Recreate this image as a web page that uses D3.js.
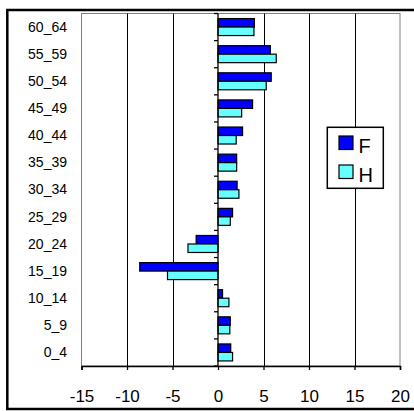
<!DOCTYPE html>
<html><head><meta charset="utf-8">
<script src="https://cdn.jsdelivr.net/npm/d3@7"></script>
<style>body{margin:0;background:#fff}svg{display:block}</style>
</head><body><svg id="c" width="414" height="411"></svg>
<script>
const categories = ["60_64","55_59","50_54","45_49","40_44","35_39","30_34","25_29","20_24","15_19","10_14","5_9","0_4"];
const seriesF = [4.0, 5.75, 5.85, 3.8, 2.7, 2.05, 2.1, 1.6, -2.4, -8.6, 0.5, 1.35, 1.4];
const seriesH = [3.95, 6.4, 5.3, 2.6, 2.0, 2.05, 2.3, 1.35, -3.3, -5.55, 1.2, 1.3, 1.6];
const seriesNames = ["F","H"];
const xTicks = [-15,-10,-5,0,5,10,15,20];
const colors = {F:"#0000FF", H:"#66FFFF"};

const svg = d3.select("#c");
const L = 81.5, R = 400, T = 13.5, B = 366;
const x = d3.scaleLinear().domain([-15,20]).range([L,R]);
const y = d3.scaleBand().domain(categories).range([T,B]).padding(0);
const inner = d3.scaleBand().domain(seriesNames).range([y.bandwidth()/2-8.5, y.bandwidth()/2+8.5]);

// outer frame
svg.append("rect").attr("x",7.3).attr("y",10).attr("width",420).attr("height",399)
  .attr("fill","#fff").attr("stroke","#000").attr("stroke-width",2.5);

// plot area border (gray)
svg.append("rect").attr("x",L).attr("y",T).attr("width",R-L).attr("height",B-T)
  .attr("fill","none").attr("stroke","#808080").attr("stroke-width",1);

// gridlines
svg.append("g").selectAll("line").data(xTicks.filter(d=>d!==0 && d!==-15 && d!==20)).join("line")
  .attr("x1",d=>Math.round(x(d))+0.5).attr("x2",d=>Math.round(x(d))+0.5)
  .attr("y1",T).attr("y2",B).attr("stroke","#000").attr("stroke-width",1);

// bars
const rows = categories.map((c,i)=>({cat:c, F:seriesF[i], H:seriesH[i]}));
const g = svg.append("g");
seriesNames.forEach(s=>{
  g.selectAll("rect."+s).data(rows).join("rect").attr("class",s)
    .attr("x",d=>x(Math.min(0,d[s])))
    .attr("width",d=>Math.abs(x(d[s])-x(0)))
    .attr("y",d=>y(d.cat)+inner(s))
    .attr("height",inner.bandwidth())
    .attr("fill",colors[s]).attr("stroke","#000").attr("stroke-width",1.2);
});

// y axis line at 0 with boundary ticks
const x0 = x(0);
svg.append("line").attr("x1",x0).attr("x2",x0).attr("y1",T).attr("y2",B).attr("stroke","#000").attr("stroke-width",1.3);
const bounds = categories.map(c=>y(c)).concat([B]);
svg.append("g").selectAll("line").data(bounds).join("line")
  .attr("x1",x0-4).attr("x2",x0).attr("y1",d=>d).attr("y2",d=>d)
  .attr("stroke","#000").attr("stroke-width",1.3);

// category labels
svg.append("g").selectAll("text").data(categories).join("text")
  .attr("x",67).attr("y",d=>y(d)+y.bandwidth()/2+1)
  .attr("dominant-baseline","middle").attr("text-anchor","end")
  .attr("font-family","Liberation Sans, Arial, sans-serif").attr("font-size","14px")
  .attr("fill","#000").text(d=>d);

// x axis
const xAxis = d3.axisBottom(x).tickValues(xTicks).tickSize(4).tickFormat(d=>String(d));
const ax = svg.append("g").attr("transform",`translate(0,${B})`).call(xAxis);
ax.select(".domain").attr("stroke","#000").attr("stroke-width",1.5);
ax.selectAll(".tick line").attr("stroke","#000").attr("stroke-width",1.3);
ax.selectAll(".tick text").attr("y",35.5).attr("dy",0)
  .attr("font-family","Liberation Sans, Arial, sans-serif").attr("font-size","17px").attr("fill","#000");

// legend
const lg = svg.append("g");
lg.append("rect").attr("x",327.3).attr("y",127.3).attr("width",56).attr("height",61)
  .attr("fill","#fff").attr("stroke","#000").attr("stroke-width",1.5);
seriesNames.forEach((s,i)=>{
  lg.append("rect").attr("x",339).attr("y",136+i*29).attr("width",14).attr("height",13.5)
    .attr("fill",colors[s]).attr("stroke","#000").attr("stroke-width",1.2);
  lg.append("text").attr("x",358.5).attr("y",152.5+i*29.2)
    .attr("font-family","Liberation Sans, Arial, sans-serif").attr("font-size","20px").attr("fill","#000").text(s);
});
</script></body></html>
